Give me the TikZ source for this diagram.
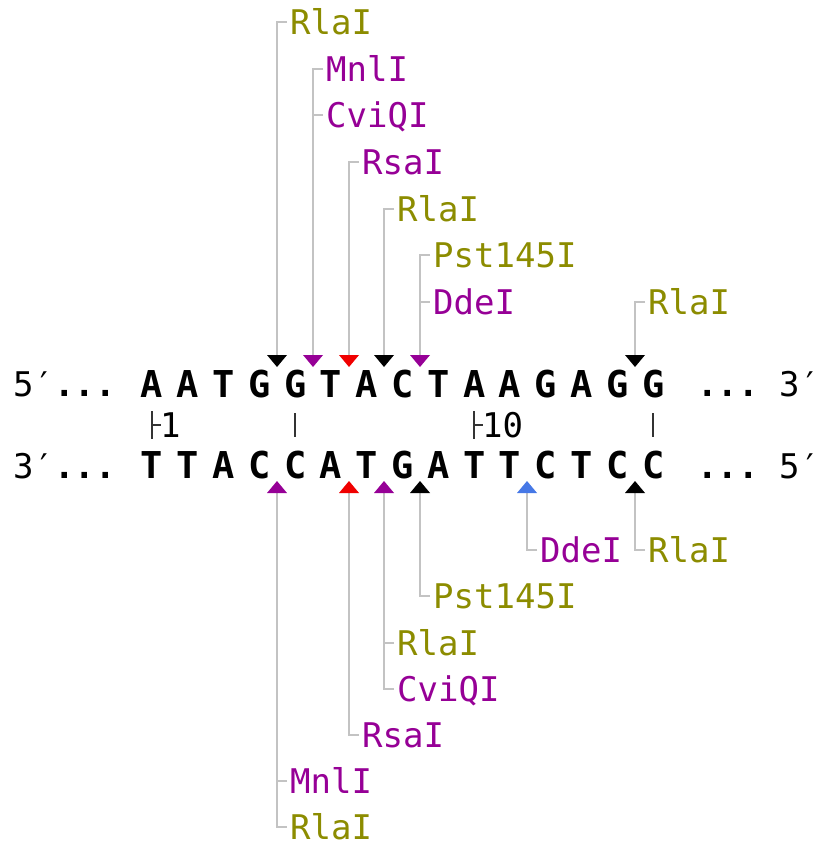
\documentclass[tikz,border=0pt]{standalone}
\usepackage{fontspec}
\setmonofont{DejaVu Sans Mono}
\usetikzlibrary{calc}
\definecolor{olv}{RGB}{140,140,0}
\definecolor{prp}{RGB}{150,0,150}
\definecolor{gry}{RGB}{195,195,195}
\definecolor{cutred}{RGB}{240,0,0}
\definecolor{cutblue}{RGB}{70,120,230}
\begin{document}
\begin{tikzpicture}[x=1pt,y=-1pt,
  lab/.style={font=\ttfamily\fontsize{34}{34}\selectfont, inner sep=0pt, anchor=west, text height=25pt, text depth=0pt},
  nt/.style={font=\ttfamily\bfseries\fontsize{37}{37}\selectfont, inner sep=0pt, anchor=base},
  endl/.style={font=\ttfamily\fontsize{34}{34}\selectfont, inner sep=0pt, anchor=base west},
  conn/.style={draw=gry, line width=2.4pt},
  tickl/.style={draw=black!80, line width=1.8pt}]
\useasboundingbox (0,0) rectangle (822,848);

% strand ends
\node[endl] (l5) at (13,396) {5′\textbf{...}};
\node[endl] (r3) at (697,396) {\textbf{...} 3′};
\node[endl] (l3) at (13,478) {3′\textbf{...}};
\node[endl] (r5) at (697,478) {\textbf{...} 5′};

% sequences
\foreach \c [count=\i from 0] in {A,A,T,G,G,T,A,C,T,A,A,G,A,G,G}
  \node[nt] (s\i) at ({152+35.8*\i},397) {\c};
\foreach \c [count=\i from 0] in {T,T,A,C,C,A,T,G,A,T,T,C,T,C,C}
  \node[nt] (q\i) at ({152+35.8*\i},478) {\c};

% ruler
\draw[tickl] (152,411) -- (152,439) (152,425) -- (161,425);
\node[lab] (n1) at (160,425) {1};
\draw[tickl] (295,413) -- (295,437);
\draw[tickl] (474,411) -- (474,439) (474,425) -- (483,425);
\node[lab] (n10) at (482,425) {10};
\draw[tickl] (653,413) -- (653,437);

% cut coordinates
\coordinate (a1) at (277,355);
\coordinate (a2) at (313,355);
\coordinate (a3) at (349,355);
\coordinate (a4) at (384,355);
\coordinate (a5) at (420,355);
\coordinate (a6) at (635,355);
\coordinate (c1) at (277,493);
\coordinate (c2) at (349,493);
\coordinate (c3) at (384,493);
\coordinate (c4) at (420,493);
\coordinate (c5) at (527,493);
\coordinate (c6) at (635,493);

% top labels
\node[lab, text=olv] (t1) at (290,22) {RlaI};
\node[lab, text=prp] (t2) at (326,69) {MnlI};
\node[lab, text=prp] (t3) at (326,115) {CviQI};
\node[lab, text=prp] (t4) at (362,162) {RsaI};
\node[lab, text=olv] (t5) at (397,209) {RlaI};
\node[lab, text=olv] (t6) at (433,255) {Pst145I};
\node[lab, text=prp] (t7) at (433,302) {DdeI};
\node[lab, text=olv] (t8) at (648,302) {RlaI};

% bottom labels
\node[lab, text=prp] (b1) at (540,550) {DdeI};
\node[lab, text=olv] (b2) at (648,550) {RlaI};
\node[lab, text=olv] (b3) at (433,596) {Pst145I};
\node[lab, text=olv] (b4) at (397,643) {RlaI};
\node[lab, text=prp] (b5) at (397,689) {CviQI};
\node[lab, text=prp] (b6) at (362,735) {RsaI};
\node[lab, text=prp] (b7) at (290,781) {MnlI};
\node[lab, text=olv] (b8) at (290,827) {RlaI};

% connectors
\foreach \l/\a in {t1/a1,t2/a2,t3/a2,t4/a3,t5/a4,t6/a5,t7/a5,t8/a6,
                   b1/c5,b2/c6,b3/c4,b4/c3,b5/c3,b6/c2,b7/c1,b8/c1}
  \draw[conn] ($(\l.west)+(-3,0)$) -| (\a);

% triangles top
\foreach \a/\col in {a1/black,a2/prp,a3/cutred,a4/black,a5/prp,a6/black}
  \fill[\col] (\a) ++(-10,0) -- ++(20,0) -- ++(-10,12) -- cycle;
% triangles bottom
\foreach \a/\col in {c1/prp,c2/cutred,c3/prp,c4/black,c5/cutblue,c6/black}
  \fill[\col] (\a) ++(-10,0) -- ++(20,0) -- ++(-10,-12) -- cycle;
\end{tikzpicture}
\end{document}
